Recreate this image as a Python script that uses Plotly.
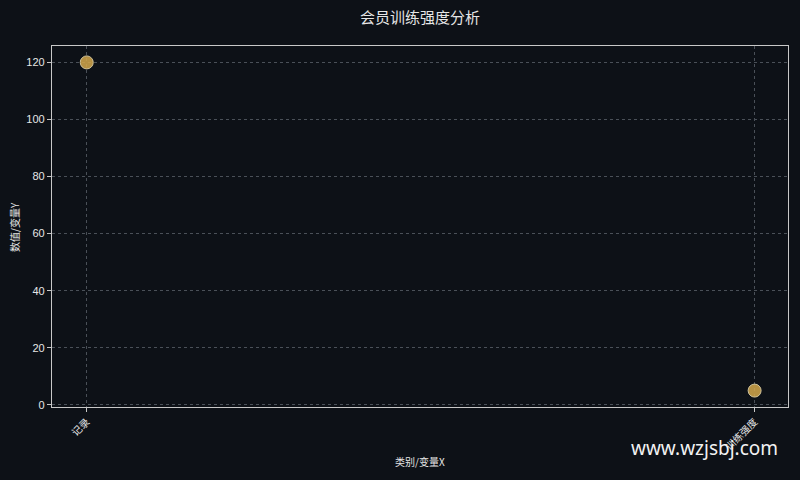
import plotly.graph_objects as go

bg_dark = '#0d1117'
gold = '#d4a84b'
light = '#e6e6e6'

categories = ['记录', '训练强度']
values = [120, 5]
y_ticks = [0, 20, 40, 60, 80, 100, 120]

fig = go.Figure(
    go.Scatter(
        x=categories,
        y=values,
        mode='markers',
        marker=dict(size=13, color=gold, opacity=0.85,
                    line=dict(color='#f0e0b0', width=1)),
        showlegend=False
    )
)

cjk = 'Noto Sans CJK SC'

fig.update_layout(
    width=800,
    height=480,
    plot_bgcolor=bg_dark,
    paper_bgcolor=bg_dark,
    margin=dict(l=52, r=12, t=46, b=73),
    font=dict(family='Liberation Sans, Noto Sans CJK SC', color=light, size=11),
    title=dict(text='会员训练强度分析', x=0.525, xanchor='center', y=0.973,
               font=dict(size=15, color=light, family=cjk)),
    annotations=[
        # watermark
        dict(text='www.wzjsbj.com', xref='paper', yref='paper',
             x=0.989, y=-0.1136, xanchor='right', yanchor='middle', showarrow=False,
             font=dict(family='Noto Sans', size=19, color='#f2f2f2')),
        # axis titles
        dict(text='类别/变量X', xref='paper', yref='paper',
             x=0.5, y=-0.152, xanchor='center', yanchor='middle', showarrow=False,
             font=dict(family=cjk, size=10, color=light)),
        dict(text='数值/变量Y', xref='paper', yref='paper', textangle=-90,
             x=-0.051, y=0.5, xanchor='center', yanchor='middle', showarrow=False,
             font=dict(family=cjk, size=10, color=light)),
    ]
)

fig.update_xaxes(
    type='category',
    range=[-0.052, 1.05],
    automargin=False,
    tickangle=-45,
    tickfont=dict(size=10, family=cjk),
    showline=True, linecolor='#c8c8c8', linewidth=1.2, mirror=True,
    ticks='outside', ticklen=4, tickcolor='#c8c8c8',
    showgrid=True, gridcolor='#4a5058', griddash='3px,3px', gridwidth=1,
    zeroline=False
)
fig.update_yaxes(
    range=[-0.75, 125.75],
    automargin=False,
    tickvals=y_ticks,
    tickfont=dict(size=11),
    showline=True, linecolor='#c8c8c8', linewidth=1.2, mirror=True,
    ticks='outside', ticklen=4, tickcolor='#c8c8c8',
    showgrid=True, gridcolor='#4a5058', griddash='3px,3px', gridwidth=1,
    zeroline=False
)

fig.write_html('out.html', config={'displayModeBar': False},
               post_script="document.body.style.margin='0';")
